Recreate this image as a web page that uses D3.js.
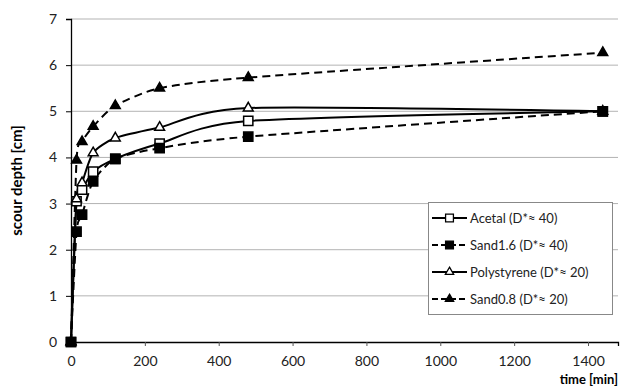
<!DOCTYPE html>
<html>
<head>
<meta charset="utf-8">
<script src="https://cdn.jsdelivr.net/npm/d3@7"></script>
<style>
  body { margin: 0; background: #fff; }
  text { font-family: Lato, "Open Sans", sans-serif; }
</style>
</head>
<body>
<figure id="chart" style="margin:0"></figure>
<script>
const times = [0, 15, 30, 60, 120, 240, 480, 1440];
const acetal = [0, 3.05, 3.3, 3.69, 3.97, 4.3, 4.79, 5.0];
const sand16 = [0, 2.39, 2.76, 3.48, 3.97, 4.2, 4.45, 5.0];
const polystyrene = [0, 3.1, 3.45, 4.1, 4.42, 4.65, 5.07, 5.0];
const sand08 = [0, 3.94, 4.34, 4.67, 5.12, 5.5, 5.73, 6.27];
const seriesNames = ["Acetal (D*\u2248 40)", "Sand1.6 (D*\u2248 40)", "Polystyrene (D*\u2248 20)", "Sand0.8 (D*\u2248 20)"];
const xTicks = [0, 200, 400, 600, 800, 1000, 1200, 1400];
const yTicks = [0, 1, 2, 3, 4, 5, 6, 7];

const width = 623, height = 390;
const mLeft = 71, mRight = 618, mTop = 19, mBottom = 342;

const series = [
  { name: seriesNames[0], values: acetal, marker: "square", fill: "#fff", dash: null },
  { name: seriesNames[1], values: sand16, marker: "square", fill: "#000", dash: "8,5" },
  { name: seriesNames[2], values: polystyrene, marker: "triangle", fill: "#fff", dash: null },
  { name: seriesNames[3], values: sand08, marker: "triangle", fill: "#000", dash: "8,5" }
];
// order in which the markers are stacked (last on top)
const markerOrder = [0, 2, 3, 1];

const svg = d3.select("#chart").append("svg")
  .attr("width", width)
  .attr("height", height);

const x = d3.scaleLinear().domain([0, 1400 * (mRight - mLeft) / (588 - mLeft)]).range([mLeft, mRight]);
const y = d3.scaleLinear().domain([0, 7]).range([mBottom, mTop]);

// gridlines
svg.append("g")
  .selectAll("line")
  .data(yTicks.filter(d => d > 0))
  .enter()
  .append("line")
  .attr("x1", mLeft).attr("x2", mRight)
  .attr("y1", d => y(d)).attr("y2", d => y(d))
  .attr("stroke", "#b3b3b3")
  .attr("stroke-width", 1);

// Y axis
const yAxis = svg.append("g")
  .attr("transform", "translate(" + mLeft + ",0)")
  .call(d3.axisLeft(y).tickValues(yTicks).tickFormat(d3.format("d")).tickSize(5).tickPadding(9));
yAxis.select(".domain").attr("stroke-width", 1.3);
yAxis.selectAll("text").style("font-size", "14px").attr("fill", "#222");

// X axis
const xAxis = svg.append("g")
  .attr("transform", "translate(0," + mBottom + ")")
  .call(d3.axisBottom(x).tickValues(xTicks).tickFormat(d3.format("d")).tickSize(4).tickPadding(10));
xAxis.select(".domain").attr("stroke-width", 1.3);
xAxis.selectAll(".tick line").attr("stroke", "#555");
xAxis.selectAll("text").style("font-size", "14px").attr("fill", "#222");

// axis titles
svg.append("text")
  .attr("transform", "translate(22," + ((mTop + mBottom) / 2) + ") rotate(-90)")
  .attr("text-anchor", "middle")
  .style("font-size", "15px")
  .style("font-weight", "bold")
  .text("scour depth [cm]");

svg.append("text")
  .attr("x", mRight)
  .attr("y", 384)
  .attr("text-anchor", "end")
  .style("font-size", "13px")
  .style("font-weight", "bold")
  .text("time [min]");

const line = d3.line()
  .x((d, i) => x(times[i]))
  .y(d => y(d))
  .curve(d3.curveCardinal.tension(0.3));

const symSquare = d3.symbol().type(d3.symbolSquare).size(85);
const symTri = d3.symbol().type(d3.symbolTriangle).size(42);

function drawMarker(g, s, cx, cy, scale) {
  g.append("path")
    .attr("d", s.marker === "square" ? symSquare() : symTri())
    .attr("transform", "translate(" + cx + "," + cy + ") scale(" + (scale || 1) + ")")
    .attr("fill", s.fill)
    .attr("stroke", "#000")
    .attr("stroke-width", 1.5);
}

const plot = svg.append("g");
series.forEach(s => {
  plot.append("path")
    .datum(s.values)
    .attr("d", line)
    .attr("fill", "none")
    .attr("stroke", "#000")
    .attr("stroke-width", 2)
    .attr("stroke-dasharray", s.dash);
});
markerOrder.forEach(k => {
  const s = series[k];
  const g = plot.append("g");
  s.values.forEach((v, i) => drawMarker(g, s, x(times[i]), y(v)));
});

// legend
const legend = svg.append("g");
legend.append("rect")
  .attr("x", 428.5).attr("y", 202.5)
  .attr("width", 184).attr("height", 112)
  .attr("fill", "#fff")
  .attr("stroke", "#888");
series.forEach((s, i) => {
  const ly = 218 + i * 27;
  legend.append("line")
    .attr("x1", 432).attr("x2", 467)
    .attr("y1", ly).attr("y2", ly)
    .attr("stroke", "#000")
    .attr("stroke-width", 2)
    .attr("stroke-dasharray", s.dash ? "6,3" : null);
  drawMarker(legend, s, 449.5, ly, 0.85);
  legend.append("text")
    .attr("x", 470)
    .attr("y", ly + 5)
    .style("font-size", "13px")
    .attr("fill", "#222")
    .text(s.name);
});
</script>
</body>
</html>
